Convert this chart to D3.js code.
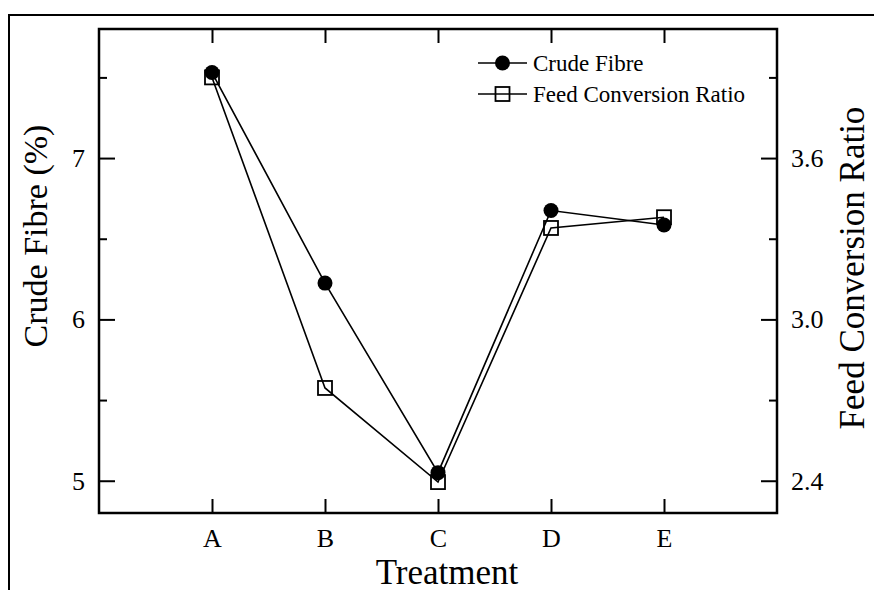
<!DOCTYPE html>
<html>
<head>
<meta charset="utf-8">
<script src="https://cdn.jsdelivr.net/npm/d3@7"></script>
<style>
  body { margin: 0; background: #fff; }
  svg text { font-family: "Liberation Serif", "Times New Roman", serif; fill: #000; }
</style>
</head>
<body>
<div id="chart"></div>
<script>
// data
const treatments = ['A', 'B', 'C', 'D', 'E'];
const crudeFibre = [7.53, 6.225, 5.05, 6.675, 6.585];
const feedConversion = [3.90, 2.745, 2.395, 3.34, 3.38];
const leftTicks = [5, 6, 7];
const leftMinor = [5.5, 6.5, 7.5];
const rightTicks = [2.4, 3.0, 3.6];
const rightMinor = [2.7, 3.3, 3.9];

const W = 874, H = 590;
const margin = { top: 29, right: 97, bottom: 77, left: 99 };
const innerW = W - margin.left - margin.right;
const innerH = H - margin.top - margin.bottom;

const svg = d3.select('#chart').append('svg')
  .attr('width', W)
  .attr('height', H);

// outer figure frame
svg.append('rect')
  .attr('x', 9).attr('y', 15)
  .attr('width', 900).attr('height', 600)
  .attr('fill', 'none')
  .attr('stroke', '#000')
  .attr('stroke-width', 2);

const g = svg.append('g')
  .attr('transform', `translate(${margin.left},${margin.top})`);

// scales
const x = d3.scalePoint().domain(treatments).range([0, innerW]).padding(1);
const yL = d3.scaleLinear().domain([4.8, 7.8]).range([innerH, 0]);
const yR = d3.scaleLinear().domain([2.28, 4.08]).range([innerH, 0]);

const fontTick = '26px';

// bottom axis
g.append('g')
  .attr('transform', `translate(0,${innerH})`)
  .call(d3.axisBottom(x).tickSizeInner(-14).tickSizeOuter(0).tickPadding(16))
  .call(a => a.select('.domain').remove())
  .call(a => a.selectAll('text').style('font-size', fontTick));

// top axis (ticks only)
g.append('g')
  .call(d3.axisTop(x).tickSizeInner(-14).tickSizeOuter(0).tickFormat(''))
  .call(a => a.select('.domain').remove());

// left axis
g.append('g')
  .call(d3.axisLeft(yL).tickValues(leftTicks).tickSizeInner(-16).tickSizeOuter(0).tickPadding(14).tickFormat(d3.format('d')))
  .call(a => a.select('.domain').remove())
  .call(a => a.selectAll('text').style('font-size', fontTick));
g.append('g')
  .call(d3.axisLeft(yL).tickValues(leftMinor).tickSizeInner(-8).tickSizeOuter(0).tickFormat(''))
  .call(a => a.select('.domain').remove());

// right axis
g.append('g')
  .attr('transform', `translate(${innerW},0)`)
  .call(d3.axisRight(yR).tickValues(rightTicks).tickSizeInner(-16).tickSizeOuter(0).tickPadding(14).tickFormat(d3.format('.1f')))
  .call(a => a.select('.domain').remove())
  .call(a => a.selectAll('text').style('font-size', fontTick));
g.append('g')
  .attr('transform', `translate(${innerW},0)`)
  .call(d3.axisRight(yR).tickValues(rightMinor).tickSizeInner(-8).tickSizeOuter(0).tickFormat(''))
  .call(a => a.select('.domain').remove());

g.selectAll('.tick line').attr('stroke-width', 2);

// plot frame
g.append('rect')
  .attr('width', innerW).attr('height', innerH)
  .attr('fill', 'none')
  .attr('stroke', '#000')
  .attr('stroke-width', 2.5);

// Feed conversion ratio series (drawn first)
const lineR = d3.line().x((d, i) => x(treatments[i])).y(d => yR(d));
g.append('path')
  .datum(feedConversion)
  .attr('d', lineR)
  .attr('fill', 'none')
  .attr('stroke', '#000')
  .attr('stroke-width', 1.6);
g.selectAll('.sq')
  .data(feedConversion)
  .enter()
  .append('rect')
  .attr('class', 'sq')
  .attr('x', (d, i) => x(treatments[i]) - 7)
  .attr('y', d => yR(d) - 7)
  .attr('width', 14).attr('height', 14)
  .attr('fill', 'none')
  .attr('stroke', '#000')
  .attr('stroke-width', 1.8);

// Crude fibre series
const lineL = d3.line().x((d, i) => x(treatments[i])).y(d => yL(d));
g.append('path')
  .datum(crudeFibre)
  .attr('d', lineL)
  .attr('fill', 'none')
  .attr('stroke', '#000')
  .attr('stroke-width', 1.6);
g.selectAll('.dot')
  .data(crudeFibre)
  .enter()
  .append('circle')
  .attr('class', 'dot')
  .attr('cx', (d, i) => x(treatments[i]))
  .attr('cy', d => yL(d))
  .attr('r', 7.5)
  .attr('fill', '#000');

// legend
const legend = svg.append('g').attr('transform', 'translate(478,63)');
const items = [
  { label: 'Crude Fibre', mark: 'circle' },
  { label: 'Feed Conversion Ratio', mark: 'square' }
];
items.forEach((it, i) => {
  const row = legend.append('g').attr('transform', `translate(0,${i * 31})`);
  row.append('line')
    .attr('x1', 0).attr('x2', 49)
    .attr('stroke', '#000').attr('stroke-width', 1.6);
  if (it.mark === 'circle') {
    row.append('circle').attr('cx', 24.5).attr('r', 7.5).attr('fill', '#000');
  } else {
    row.append('rect').attr('x', 17.5).attr('y', -7).attr('width', 14).attr('height', 14)
      .attr('fill', 'none').attr('stroke', '#000').attr('stroke-width', 1.8);
  }
  row.append('text')
    .attr('x', 55).attr('dy', '0.35em')
    .style('font-size', '23px')
    .text(it.label);
});

// axis titles
svg.append('text')
  .attr('transform', 'translate(47,236) rotate(-90)')
  .attr('text-anchor', 'middle')
  .style('font-size', '34px')
  .text('Crude Fibre (%)');

svg.append('text')
  .attr('transform', 'translate(864,268) rotate(-90)')
  .attr('text-anchor', 'middle')
  .style('font-size', '35px')
  .text('Feed Conversion Ratio');

svg.append('text')
  .attr('x', 447).attr('y', 584)
  .attr('text-anchor', 'middle')
  .style('font-size', '35px')
  .text('Treatment');
</script>
</body>
</html>
